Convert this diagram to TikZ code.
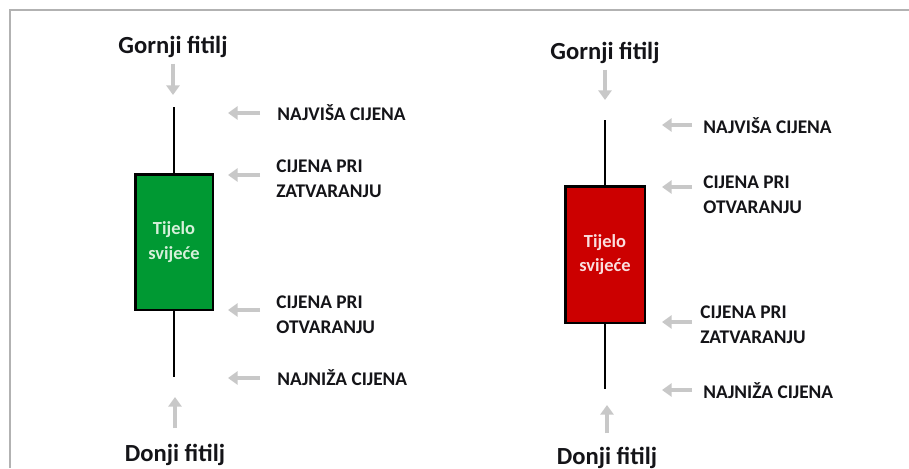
\documentclass[tikz,border=0pt]{standalone}
\usepackage{fontspec}
\setmainfont{Carlito}
\usetikzlibrary{positioning,arrows.meta}

\definecolor{bullgreen}{RGB}{0,153,51}
\definecolor{bearred}{RGB}{204,0,0}
\definecolor{bulltext}{RGB}{214,240,218}
\definecolor{beartext}{RGB}{250,222,222}
\definecolor{pointergray}{RGB}{200,200,200}
\definecolor{framegray}{RGB}{178,178,178}
\definecolor{labelblack}{RGB}{20,20,24}

\tikzset{
    pricelabel/.style={font=\bfseries\fontsize{11}{14.2}\selectfont, text=labelblack, align=left, anchor=west, inner sep=0pt},
    wicklabel/.style={font=\bfseries\fontsize{14}{16}\selectfont, text=labelblack, anchor=base, inner sep=0pt},
    pointer/.style={draw=pointergray, line width=2.6pt, -{Triangle[width=7.5pt, length=5.5pt]}},
    candlebody/.style={draw=black, line width=1.7pt, align=center, inner sep=0pt, font=\bfseries\fontsize{10.5}{14}\selectfont},
    wick/.style={draw=black, line width=1.6pt},
}

\begin{document}
\begin{tikzpicture}[x=0.02cm, y=-0.02cm]
        \useasboundingbox (0,0) rectangle (909,468);
        \draw[framegray, line width=1.2pt] (10,468) -- (10,10) -- (909,10);

        % rising candle
        \node[candlebody, fill=bullgreen, text=bulltext, minimum width=1.56cm, minimum height=2.72cm] (gbody) at (174,242) {Tijelo\\svijeće};
        \coordinate (ghigh) at (174,107);
        \coordinate (glow) at (174,377);
        \draw[wick] (ghigh) -- (gbody.north);
        \draw[wick] (gbody.south) -- (glow);

        \node[wicklabel] (gupper) at (173,53) {Gornji fitilj};
        \node[wicklabel] (glower) at (175,461) {Donji fitilj};
        \coordinate (guppertip) at (173,95);
        \coordinate (glowertip) at (175,397);
        \draw[pointer, shorten <=0.12cm] (gupper.south) -- (guppertip);
        \draw[pointer, shorten <=0.3cm] (glower.north) -- (glowertip);

        \node[pricelabel] (ghighlbl) at (277,113) {NAJVIŠA CIJENA};
        \node[pricelabel] (gcloselbl) at (276,179) {CIJENA PRI\\ZATVARANJU};
        \node[pricelabel] (gopenlbl) at (276,315) {CIJENA PRI\\OTVARANJU};
        \node[pricelabel] (glowlbl) at (277,378) {NAJNIŽA CIJENA};
        \coordinate (ghightip) at (228,113);
        \coordinate (gclosetip) at (228,175);
        \coordinate (gopentip) at (228,310);
        \coordinate (glowtip) at (228,378);
        \draw[pointer, shorten <=0.34cm] (ghighlbl.west |- ghightip) -- (ghightip);
        \draw[pointer, shorten <=0.32cm] (gcloselbl.west |- gclosetip) -- (gclosetip);
        \draw[pointer, shorten <=0.32cm] (gopenlbl.west |- gopentip) -- (gopentip);
        \draw[pointer, shorten <=0.34cm] (glowlbl.west |- glowtip) -- (glowtip);

        % falling candle
        \node[candlebody, fill=bearred, text=beartext, minimum width=1.6cm, minimum height=2.74cm] (rbody) at (605,254.5) {Tijelo\\svijeće};
        \coordinate (rhigh) at (605,120);
        \coordinate (rlow) at (605,389);
        \draw[wick] (rhigh) -- (rbody.north);
        \draw[wick] (rbody.south) -- (rlow);

        \node[wicklabel] (rupper) at (605,59) {Gornji fitilj};
        \node[wicklabel] (rlower) at (607,464) {Donji fitilj};
        \coordinate (ruppertip) at (605,100);
        \coordinate (rlowertip) at (607,405);
        \draw[pointer, shorten <=0.12cm] (rupper.south) -- (ruppertip);
        \draw[pointer, shorten <=0.26cm] (rlower.north) -- (rlowertip);

        \node[pricelabel] (rhighlbl) at (703,126) {NAJVIŠA CIJENA};
        \node[pricelabel] (ropenlbl) at (703,195) {CIJENA PRI\\OTVARANJU};
        \node[pricelabel] (rcloselbl) at (700,325) {CIJENA PRI\\ZATVARANJU};
        \node[pricelabel] (rlowlbl) at (703,391) {NAJNIŽA CIJENA};
        \coordinate (rhightip) at (662,125);
        \coordinate (ropentip) at (662,187);
        \coordinate (rclosetip) at (662,322);
        \coordinate (rlowtip) at (662,390);
        \draw[pointer, shorten <=0.22cm] (rhighlbl.west |- rhightip) -- (rhightip);
        \draw[pointer, shorten <=0.22cm] (ropenlbl.west |- ropentip) -- (ropentip);
        \draw[pointer, shorten <=0.16cm] (rcloselbl.west |- rclosetip) -- (rclosetip);
        \draw[pointer, shorten <=0.22cm] (rlowlbl.west |- rlowtip) -- (rlowtip);
    \end{tikzpicture}
\end{document}
